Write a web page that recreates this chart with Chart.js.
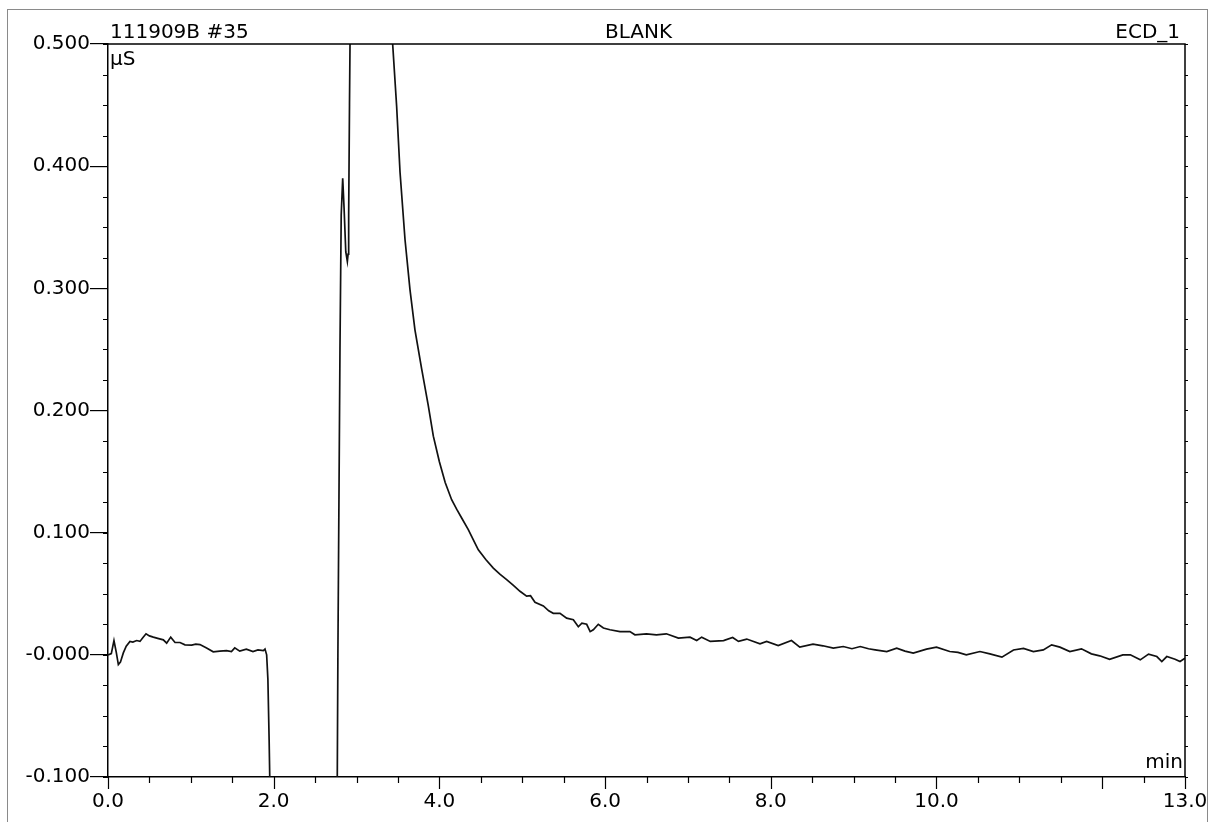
<!DOCTYPE html>
<html>
<head>
<meta charset="utf-8">
<script src="https://cdn.jsdelivr.net/npm/chart.js@4.4.1/dist/chart.umd.min.js"></script>
<style>
  html, body { margin: 0; padding: 0; background: #fff; }
  canvas { display: block; }
</style>
</head>
<body>
<canvas id="chrom" width="1216" height="822"></canvas>
<script>
// header texts
const sampleName = '111909B #35';
const runTitle = 'BLANK';
const channelName = 'ECD_1';
const yUnit = 'µS';
const xUnit = 'min';

// axis ticks
const xTickValues = [0, 2, 4, 6, 8, 10, 13];
const xTickLabels = ['0.0', '2.0', '4.0', '6.0', '8.0', '10.0', '13.0'];
const yTickValues = [-0.1, 0, 0.1, 0.2, 0.3, 0.4, 0.5];
const yTickLabels = ['-0.100', '-0.000', '0.100', '0.200', '0.300', '0.400', '0.500'];

// trace (min / µS)
const retentionTimes = [
  0.00, 0.04, 0.072, 0.10, 0.125, 0.15, 0.185, 0.22, 0.265, 0.30, 0.346, 0.386, 0.42, 0.459, 0.50,
  0.547, 0.60, 0.668, 0.708, 0.757, 0.809, 0.869, 0.929, 1.01, 1.06, 1.11, 1.19, 1.27, 1.35, 1.43,
  1.49, 1.53, 1.59, 1.67, 1.75, 1.81, 1.875, 1.895, 1.915, 1.93, 1.945, 1.96, 2.00, 2.70, 2.76,
  2.775, 2.80, 2.815, 2.833, 2.85, 2.87, 2.889, 2.898, 2.905, 2.915, 2.925, 3.00, 3.20, 3.38, 3.436,
  3.484, 3.525, 3.585, 3.645, 3.705, 3.786, 3.866, 3.927, 4.00, 4.07, 4.148, 4.21, 4.269, 4.349, 4.41,
  4.47, 4.56, 4.651, 4.73, 4.812, 4.89, 4.973, 5.053, 5.10, 5.154, 5.255, 5.32, 5.375, 5.456, 5.536,
  5.617, 5.677, 5.72, 5.778, 5.82, 5.858, 5.918, 5.98, 6.059, 6.18, 6.30, 6.36, 6.50, 6.62, 6.74,
  6.885, 7.025, 7.106, 7.166, 7.27, 7.43, 7.54, 7.61, 7.71, 7.87, 7.95, 8.09, 8.25, 8.35, 8.51,
  8.63, 8.755, 8.875, 8.98, 9.08, 9.18, 9.26, 9.40, 9.52, 9.62, 9.72, 9.88, 10.0, 10.16, 10.26,
  10.36, 10.525, 10.645, 10.79, 10.93, 11.05, 11.17, 11.29, 11.39, 11.49, 11.61, 11.75, 11.87, 11.97, 12.09,
  12.25, 12.34, 12.46, 12.56, 12.66, 12.72, 12.78, 12.88, 12.94, 13.0
];
const signal = [
  0.000, 0.001, 0.0117, 0.002, -0.008, -0.006, 0.0016, 0.007, 0.011, 0.0105, 0.0117, 0.011, 0.014, 0.0172, 0.0155,
  0.0145, 0.0135, 0.0123, 0.0096, 0.0145, 0.0101, 0.0101, 0.0082, 0.008, 0.0088, 0.0084, 0.0055, 0.0025, 0.003, 0.0035,
  0.0027, 0.0057, 0.003, 0.0047, 0.0027, 0.004, 0.0035, 0.0047, 0.000, -0.02, -0.07, -0.13, -0.25, -0.25, -0.2,
  0.0, 0.25, 0.36, 0.39, 0.365, 0.33, 0.322, 0.328, 0.36, 0.45, 0.53, 0.95, 0.85, 0.56, 0.500,
  0.449, 0.395, 0.340, 0.299, 0.266, 0.234, 0.204, 0.179, 0.158, 0.141, 0.127, 0.119, 0.112, 0.1025, 0.094,
  0.086, 0.078, 0.071, 0.066, 0.0615, 0.057, 0.052, 0.048, 0.0484, 0.043, 0.040, 0.036, 0.034, 0.034, 0.030,
  0.0287, 0.023, 0.026, 0.025, 0.019, 0.0205, 0.025, 0.022, 0.0205, 0.019, 0.019, 0.0164, 0.0172, 0.0164, 0.0172,
  0.0137, 0.0145, 0.0117, 0.0145, 0.011, 0.0117, 0.0142, 0.011, 0.0129, 0.009, 0.011, 0.0076, 0.0117, 0.0063, 0.0088,
  0.0074, 0.0055, 0.0068, 0.005, 0.0068, 0.005, 0.0041, 0.0027, 0.0055, 0.003, 0.0014, 0.0047, 0.0063, 0.0027, 0.002,
  0.0, 0.0027, 0.0008, -0.0019, 0.004, 0.0052, 0.0027, 0.004, 0.0082, 0.0063, 0.0027, 0.0049, 0.0008, -0.0008, -0.0036,
  0.0, 0.0, -0.0041, 0.0006, -0.0014, -0.0055, -0.0014, -0.0036, -0.0055, -0.0027
];

const FONT = 'DejaVu Sans';

// frame, minor ticks and the header texts
const chromDecor = {
  id: 'chromDecor',
  afterDraw(chart) {
    const { ctx, chartArea, scales } = chart;
    const { left, right, top, bottom } = chartArea;
    const x = scales.x;
    const y = scales.y;
    ctx.save();

    // outer frame of the printout
    ctx.strokeStyle = '#8a8a8a';
    ctx.lineWidth = 1;
    ctx.strokeRect(7.5, 9.5, 1200, 830);

    // top and right edge of the plot box
    ctx.strokeStyle = '#000';
    ctx.lineWidth = 1.5;
    ctx.beginPath();
    ctx.moveTo(left, top);
    ctx.lineTo(right, top);
    ctx.lineTo(right, bottom);
    ctx.stroke();

    // x ticks every 0.5 min, longer every 2 min
    ctx.lineWidth = 1.2;
    ctx.beginPath();
    for (let i = 0; i <= 26; i++) {
      const v = i * 0.5;
      const px = Math.round(x.getPixelForValue(v)) + 0.5;
      const len = (i % 4 === 0 || i === 26) ? 12 : 6;
      ctx.moveTo(px, bottom);
      ctx.lineTo(px, bottom + len);
    }
    // y minor ticks every 0.025
    for (let i = 0; i <= 24; i++) {
      const v = -0.1 + i * 0.025;
      const py = Math.round(y.getPixelForValue(v)) + 0.5;
      ctx.moveTo(left - 5, py);
      ctx.lineTo(left, py);
      ctx.moveTo(right, py);
      ctx.lineTo(right + 3, py);
    }
    ctx.stroke();

    // texts
    ctx.fillStyle = '#000';
    ctx.font = `20px "${FONT}"`;
    ctx.textBaseline = 'alphabetic';
    ctx.textAlign = 'left';
    ctx.fillText(sampleName, left + 2, top - 6);
    ctx.fillText(yUnit, left + 2, top + 21);
    ctx.textAlign = 'center';
    ctx.fillText(runTitle, (left + right) / 2 - 8, top - 6);
    ctx.textAlign = 'right';
    ctx.fillText(channelName, right - 5, top - 6);
    ctx.fillText(xUnit, right - 2, bottom - 9);
    ctx.restore();
  }
};

new Chart(document.getElementById('chrom'), {
  type: 'line',
  data: {
    datasets: [{
      data: retentionTimes.map((t, i) => ({ x: t, y: signal[i] })),
      borderColor: '#111',
      borderWidth: 1.7,
      pointRadius: 0,
      tension: 0,
      clip: 0,
    }],
  },
  options: {
    responsive: false,
    animation: false,
    events: [],
    layout: { padding: { left: 0, top: 44, right: 31, bottom: 0 } },
    plugins: {
      legend: { display: false },
      tooltip: { enabled: false },
    },
    scales: {
      x: {
        type: 'linear',
        min: 0,
        max: 13,
        afterFit: (scale) => {
          scale.height = 45;
          scale.paddingLeft = 0;
          scale.paddingRight = 0;
        },
        afterBuildTicks: (scale) => { scale.ticks = xTickValues.map((v) => ({ value: v })); },
        grid: { display: false, drawTicks: false },
        border: { display: true, color: '#000', width: 1.5 },
        ticks: {
          autoSkip: false,
          maxRotation: 0,
          padding: 13,
          color: '#000',
          font: { family: FONT, size: 20 },
          callback: (v, i) => xTickLabels[i],
        },
      },
      y: {
        type: 'linear',
        min: -0.1,
        max: 0.5,
        afterFit: (scale) => {
          scale.width = 108;
          scale.paddingTop = 0;
          scale.paddingBottom = 0;
        },
        afterBuildTicks: (scale) => { scale.ticks = yTickValues.map((v) => ({ value: v })); },
        grid: { drawOnChartArea: false, drawTicks: true, tickLength: 18, color: '#000', lineWidth: 1.2 },
        border: { display: true, color: '#000', width: 1.5 },
        ticks: {
          autoSkip: false,
          padding: 0,
          color: '#000',
          font: { family: FONT, size: 20 },
          callback: (v, i) => yTickLabels[i],
        },
      },
    },
  },
  plugins: [chromDecor],
});
</script>
</body>
</html>
